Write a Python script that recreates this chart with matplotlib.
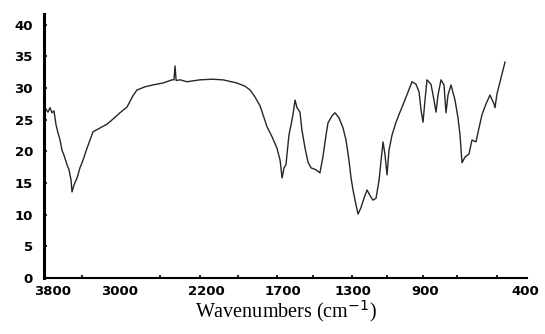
import numpy as np
import matplotlib

matplotlib.use("Agg")
import matplotlib.pyplot as plt

# ---- data ------------------------------------------------------------------
wavenumber = [3898, 3861, 3837, 3812, 3788, 3764, 3740, 3716, 3693, 3669,
              3633, 3609, 3585, 3573, 3549, 3513, 3478, 3442, 3394, 3358,
              3322, 3239, 3155, 3084, 3000, 2935, 2879, 2842, 2767, 2693,
              2600, 2516, 2498, 2488, 2478, 2442, 2377, 2256, 2161, 2090,
              1999, 1947, 1914, 1882, 1849, 1823, 1804, 1771, 1739, 1719,
              1706, 1694, 1683, 1666, 1654, 1643, 1631, 1620, 1603, 1592,
              1574, 1557, 1540, 1512, 1489, 1472, 1454, 1443, 1420, 1403,
              1380, 1357, 1340, 1323, 1311, 1300, 1283, 1272, 1256, 1239,
              1222, 1205, 1189, 1172, 1155, 1144, 1133, 1122, 1111, 1100,
              1083, 1061, 1039, 1016, 994, 972, 950, 933, 922, 911,
              900, 890, 870, 855, 845, 835, 820, 805, 795, 785,
              770, 750, 735, 725, 715, 700, 680, 665, 645, 630,
              615, 595, 575, 555, 550, 540, 525, 510, 500]
transmittance = [26.9, 26.2, 26.9, 26.1, 26.4, 24.2, 22.9, 21.8, 20.2, 19.4,
                 17.9, 17.1, 15.5, 13.6, 14.7, 15.8, 17.4, 18.6, 20.5, 21.8,
                 23.1, 23.7, 24.3, 25.1, 26.1, 27.0, 28.8, 29.7, 30.2, 30.5,
                 30.8, 31.3, 31.3, 33.5, 31.2, 31.3, 31.0, 31.3, 31.4, 31.3,
                 30.8, 30.3, 29.7, 28.6, 27.2, 25.3, 23.9, 22.3, 20.5, 18.6,
                 15.8, 17.4, 17.9, 22.6, 24.2, 25.8, 28.1, 26.9, 26.2, 23.4,
                 20.5, 18.3, 17.4, 17.1, 16.6, 19.1, 22.6, 24.5, 25.6, 26.1,
                 25.3, 23.7, 21.8, 18.6, 15.8, 13.9, 11.5, 10.1, 11.1, 12.6,
                 13.9, 13.0, 12.3, 12.6, 15.5, 18.6, 21.5, 19.4, 16.3, 20.2,
                 22.6, 24.6, 26.2, 27.8, 29.4, 31.0, 30.6, 29.4, 26.5, 24.6,
                 28.1, 31.3, 30.6, 28.1, 26.2, 28.9, 31.3, 30.5, 26.1, 28.9,
                 30.5, 28.1, 25.3, 22.6, 18.2, 19.1, 19.6, 21.8, 21.5, 23.7,
                 25.8, 27.5, 28.9, 27.5, 26.9, 29.1, 31.0, 32.9, 34.1]

tick_labels = ["3800", "3000", "2200", "1700", "1300", "900", "400"]
tick_values = [3800, 3000, 2200, 1700, 1300, 900, 400]
y_ticks = [0, 5, 10, 15, 20, 25, 30, 35, 40]

# the printed axis is not linear in wavenumber: piecewise mapping (pixel columns)
anchor_wn = np.array([3910, 3800, 3000, 2200, 1700, 1300, 900, 400, 380])
anchor_px = np.array([44, 53, 120, 206, 283, 353, 425, 525, 527], dtype=float)


def fwd(w):
    # increasing with w, so a (3910, 380) xlim puts high wavenumbers on the left
    return -np.interp(w, anchor_wn[::-1], anchor_px[::-1])


def inv(p):
    return np.interp(-np.asarray(p), anchor_px, anchor_wn)


fig = plt.figure(figsize=(5.45, 3.34), dpi=100)
ax = fig.add_axes([44 / 545, 56 / 334, 483 / 545, 264 / 334])
ax.set_xscale("function", functions=(fwd, inv))

ax.plot(wavenumber, transmittance, color="#262626", lw=1.0)

ax.set_xlim(3910, 380)
ax.set_ylim(0, 41.7)

ax.set_xticks(tick_values)
ax.set_xticklabels(tick_labels)
minor_px = np.array([82, 120, 160, 200, 238, 277, 313, 352, 387, 423, 457, 497.0])
ax.set_xticks(inv(-minor_px), minor=True)
ax.set_yticks(y_ticks)

ax.tick_params(axis="x", which="major", length=0, pad=5, labelsize=9.5)
ax.tick_params(axis="x", which="minor", direction="in", length=2.5, width=1.2)
ax.tick_params(axis="y", direction="in", length=2.5, width=1.2, pad=8, labelsize=9.5)
for lab in ax.get_xticklabels() + ax.get_yticklabels():
    lab.set_fontweight("bold")

for side in ("top", "right"):
    ax.spines[side].set_visible(False)
ax.spines["left"].set_linewidth(2.2)
ax.spines["bottom"].set_linewidth(1.5)

ax.set_xlabel("Wavenumbers (cm$^{-1}$)", fontsize=14.5, family="Liberation Serif",
              labelpad=0)

fig.savefig("out.png", dpi=100, facecolor="white")
